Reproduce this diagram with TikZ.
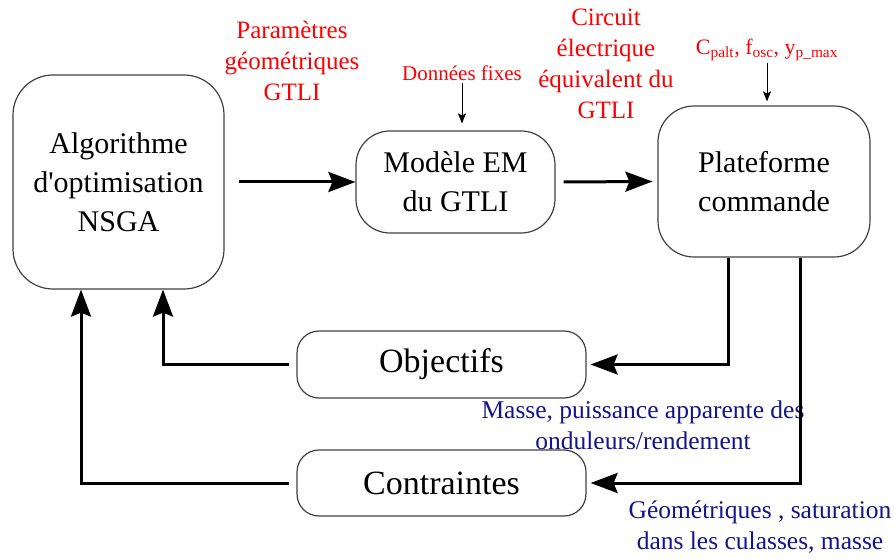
\documentclass[tikz,border=0pt]{standalone}
\usepackage{fontspec}
\setmainfont{Liberation Serif}
\usetikzlibrary{arrows.meta}
\definecolor{bleulabel}{RGB}{20,20,140}

\begin{document}
\begin{tikzpicture}[x=1pt, y=1pt,
  bloc/.style={draw=black!75, line width=1.2pt, align=center, inner sep=0pt, font=\fontsize{30}{39}\selectfont},
  petitbloc/.style={bloc, rounded corners=22pt, minimum width=289pt, font=\fontsize{34}{40}\selectfont},
  rouge/.style={text=red, align=center, inner sep=0pt, font=\fontsize{25}{31}\selectfont},
  bleu/.style={text=bleulabel, align=center, inner sep=0pt, font=\fontsize{25.5}{31}\selectfont},
  fleche/.style={line width=3pt, -{Stealth[length=27pt,width=20pt,inset=4pt]}},
  fin/.style={line width=1pt, -{Stealth[length=10pt,width=8pt,inset=2pt]}}]
\useasboundingbox (0,0) rectangle (894,558);

\node[bloc, rounded corners=40pt, minimum width=211pt, minimum height=214pt] (algo) at (118.5,376) {Algorithme\\d\textquotesingle optimisation\\NSGA};
\node[bloc, rounded corners=34pt, minimum width=199pt, minimum height=102pt] (modele) at (455.5,376) {Modèle EM\\du GTLI};
\node[bloc, rounded corners=36pt, minimum width=212pt, minimum height=151pt] (plat) at (764,376.5) {Plateforme\\commande};
\node[petitbloc, minimum height=67pt] (obj) at (441.5,193.5) {Objectifs};
\node[petitbloc, minimum height=66pt] (contr) at (441.5,75) {Contraintes};

\node[rouge] (params) at (292,497) {Paramètres\\géométriques\\GTLI};
\node[rouge, font=\fontsize{21}{25}\selectfont] (donnees) at (462,485) {Données fixes};
\node[rouge] (circuit) at (606,494.5) {Circuit\\électrique\\équivalent du\\GTLI};
\node[rouge, font=\fontsize{22}{26}\selectfont] (cparams) at (767,508) {C\textsubscript{palt}, f\textsubscript{osc}, y\textsubscript{p\_max}};
\node[bleu] (objtxt) at (643,133) {Masse, puissance apparente des\\onduleurs/rendement};
\node[bleu] (contrtxt) at (760,31) {Géométriques , saturation\\dans les culasses, masse};

\draw[fleche, shorten <=14pt] (algo.east) -- (modele.west);
\draw[fleche, shorten <=8pt, shorten >=5pt] (modele.east) -- (plat.west);
\draw[fleche, shorten >=4pt] ([xshift=-36pt]plat.south) |- (obj.east);
\draw[fleche, shorten >=4pt] ([xshift=36pt]plat.south) |- (contr.east);
\draw[fleche, shorten <=7pt] (obj.west) -| ([xshift=44.5pt]algo.south);
\draw[fleche, shorten <=7pt] (contr.west) -| ([xshift=-37.5pt]algo.south);
\draw[fin, shorten <=2pt, shorten >=7pt] (donnees.south) -- (donnees.south |- modele.north);
\draw[fin, shorten <=2pt, shorten >=4pt] (cparams.south) -- (cparams.south |- plat.north);
\end{tikzpicture}
\end{document}
